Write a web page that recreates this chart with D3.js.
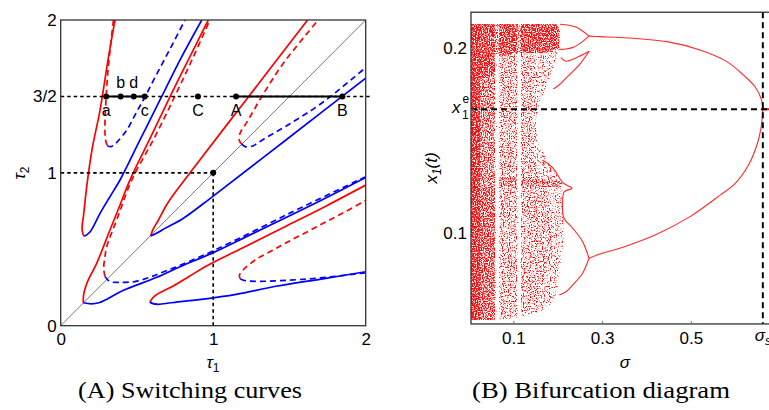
<!DOCTYPE html>
<html>
<head>
<meta charset="utf-8">
<script src="https://cdn.jsdelivr.net/npm/d3@7"></script>
<style>
body { margin: 0; background: #fff; }
svg { display: block; }
</style>
</head>
<body>
<svg id="chart" width="769" height="410"></svg>
<script>
// ---------- panel A : switching curves, points are [tau1, tau2] ----------
var curve1Red  = [[0.356,2.0],[0.310,1.738],[0.258,1.411],[0.205,1.150],[0.172,0.921],[0.150,0.724],[0.140,0.639],[0.146,0.600],[0.155,0.585]];
var curve1Blue = [[0.155,0.585],[0.192,0.613],[0.258,0.735],[0.323,0.844],[0.389,0.953],[0.520,1.215],[0.651,1.477],[0.782,1.738],[0.925,2.0]];
var curve2Red  = [[0.346,2.0],[0.312,1.694],[0.297,1.477],[0.290,1.302],[0.294,1.215],[0.306,1.178]];
var curve2Blue = [[0.306,1.178],[0.330,1.172],[0.363,1.195],[0.433,1.280],[0.498,1.398],[0.553,1.498],[0.618,1.624],[0.684,1.748],[0.750,1.874],[0.815,2.0]];
var curve3Red  = [[0.148,0.150],[0.150,0.20],[0.162,0.25],[0.181,0.30],[0.236,0.408],[0.323,0.626],[0.389,0.790],[0.454,0.953],[0.586,1.225],[0.717,1.498],[0.841,1.748],[0.968,2.0]];
var curve3Blue = [[0.148,0.150],[0.20,0.143],[0.25,0.150],[0.30,0.172],[0.408,0.230],[0.626,0.315],[0.790,0.389],[1.0,0.478],[1.225,0.586],[1.498,0.717],[1.748,0.841],[2.0,0.97]];
var curve4Red  = [[0.291,0.321],[0.282,0.37],[0.290,0.45],[0.302,0.517],[0.367,0.692],[0.466,0.953],[0.612,1.225],[0.747,1.498],[0.865,1.748],[0.978,2.0]];
var curve4Blue = [[0.291,0.321],[0.32,0.290],[0.38,0.283],[0.50,0.292],[0.70,0.362],[1.0,0.490],[1.5,0.735],[2.0,0.975]];
var curve5Red  = [[0.590,0.587],[0.603,0.625],[0.640,0.690],[0.70,0.80],[0.848,1.0],[1.233,1.5],[1.619,2.0]];
var curve5Blue = [[0.590,0.587],[0.625,0.603],[0.690,0.640],[0.80,0.70],[1.0,0.848],[1.5,1.233],[2.0,1.619]];
var curve6Red  = [[1.187,1.188],[1.172,1.21],[1.176,1.259],[1.220,1.33],[1.318,1.498],[1.460,1.717],[1.689,2.0]];
var curve6Blue = [[1.187,1.188],[1.21,1.172],[1.259,1.176],[1.33,1.220],[1.498,1.318],[1.717,1.460],[2.0,1.689]];
var curve7Red  = [[0.585,0.155],[0.613,0.192],[0.735,0.258],[0.844,0.323],[0.953,0.389],[1.215,0.520],[1.477,0.651],[1.738,0.782],[2.0,0.920]];
var curve7Blue = [[0.585,0.155],[0.600,0.146],[0.639,0.140],[0.724,0.150],[0.921,0.172],[1.150,0.205],[1.411,0.258],[1.738,0.310],[2.0,0.353]];
var curve8Red  = [[1.178,0.306],[1.172,0.330],[1.195,0.363],[1.280,0.433],[1.398,0.498],[1.498,0.553],[1.624,0.618],[1.748,0.684],[1.874,0.750],[2.0,0.820]];
var curve8Blue = [[1.178,0.306],[1.215,0.294],[1.302,0.290],[1.477,0.297],[1.694,0.312],[2.0,0.346]];

var solidCurves  = [{c: "red", d: curve1Red}, {c: "blue", d: curve1Blue}, {c: "red", d: curve3Red}, {c: "blue", d: curve3Blue},
                    {c: "red", d: curve5Red}, {c: "blue", d: curve5Blue}, {c: "red", d: curve7Red}, {c: "blue", d: curve7Blue}];
var dashedCurves = [{c: "red", d: curve2Red}, {c: "blue", d: curve2Blue}, {c: "red", d: curve4Red}, {c: "blue", d: curve4Blue},
                    {c: "red", d: curve6Red}, {c: "blue", d: curve6Blue}, {c: "red", d: curve8Red}, {c: "blue", d: curve8Blue}];

var tauTicks = [0, 1, 1.5, 2];
var tauXTicks = [0, 1, 2];
var tau2Line = 1.5;
var markNames = ["a", "b", "d", "c", "C", "A", "B"];
var markTau1  = [0.298, 0.393, 0.479, 0.551, 0.90, 1.15, 1.847];
var markAbove = ["b", "d"];
var segments  = [[0.298, 0.551], [1.15, 1.847]];
var unitPoint = [1, 1];

// ---------- panel B : bifurcation diagram, points are [sigma, x1] ----------
var sigmaS = 0.662;
var x1e = 0.167;
var sigmaMin = 0.0047;
var x1Range = [0.051, 0.2195];
var sigmaTicks = [0.1, 0.3, 0.5];
var x1Ticks = [0.1, 0.2];

var upperBranch = [[0.2705,0.2066],[0.295,0.2063],[0.370,0.2054],[0.446,0.2036],[0.5205,0.1991],[0.581,0.1928],[0.618,0.1856],[0.6445,0.1792],[0.659,0.1721],[0.662,0.1670]];
var lowerBranch = [[0.662,0.1670],[0.658,0.157],[0.649,0.148],[0.630,0.137],[0.600,0.127],[0.565,0.1205],[0.498,0.109],[0.423,0.0995],[0.347,0.0925],[0.295,0.0888],[0.2705,0.0865]];
var topArmHigh  = [[0.2705,0.2066],[0.255,0.2095],[0.241,0.2115],[0.225,0.2125],[0.205,0.2130]];
var topArmLow   = [[0.2705,0.2066],[0.255,0.2035],[0.235,0.2005],[0.215,0.1995],[0.203,0.1995]];
var sideArm1    = [[0.2707,0.1984],[0.241,0.1948],[0.2187,0.1930],[0.207,0.1950]];
var sideArm2    = [[0.2707,0.1984],[0.250,0.1915],[0.2187,0.1839],[0.2036,0.1803],[0.190,0.1780]];
var lowArmHigh  = [[0.2705,0.0865],[0.256,0.0955],[0.234,0.1027],[0.214,0.1083],[0.211,0.1160],[0.215,0.1225],[0.232,0.1243],[0.212,0.1273],[0.189,0.1353],[0.166,0.1396]];
var lowArmLow   = [[0.2705,0.0865],[0.256,0.0784],[0.234,0.0721],[0.2187,0.0684],[0.2036,0.0667]];
var branches = [upperBranch, lowerBranch, topArmHigh, topArmLow, sideArm1, sideArm2, lowArmHigh, lowArmLow];

var cloudOuter = [[0.0047,0.2131],[0.198,0.2131],[0.205,0.2099],[0.205,0.2012],[0.196,0.1937],[0.180,0.1829],[0.162,0.1721],[0.151,0.1612],[0.153,0.1504],[0.176,0.1396],[0.198,0.1315],[0.212,0.1245],[0.212,0.1126],[0.214,0.0991],[0.2075,0.0856],[0.2005,0.0721],[0.1917,0.0629],[0.160,0.0575],[0.115,0.0548],[0.070,0.0531],[0.0047,0.0531]];
var cloudInner = [[0.063,0.1970],[0.150,0.1970],[0.142,0.1650],[0.150,0.1300],[0.175,0.1250],[0.190,0.0900],[0.150,0.0590],[0.063,0.0540]];
var cloudTopBand = [[0.0047,0.2131],[0.198,0.2131],[0.204,0.2095],[0.203,0.2000],[0.170,0.1975],[0.100,0.1975],[0.070,0.1955],[0.063,0.1880],[0.0047,0.1800]];
var cloudLeftMid = [[0.0047,0.1800],[0.063,0.1880],[0.063,0.1304],[0.0047,0.1304]];
var cloudLeftLow = [[0.0047,0.1310],[0.063,0.1310],[0.063,0.0531],[0.0047,0.0531]];
var cloudLeftStrip = [[0.0047,0.2131],[0.025,0.2131],[0.025,0.0531],[0.0047,0.0531]];
var cloudMidBand = [[0.0047,0.1310],[0.200,0.1290],[0.2125,0.1268],[0.200,0.1250],[0.0047,0.1250]];
var windows = [[0.059, 0.068], [0.109, 0.117]];

// ---------- drawing ----------
var FONT = "'Liberation Sans', Arial, sans-serif";
var svg = d3.select("#chart");
var defs = svg.append("defs");

var xA = d3.scaleLinear().domain([0, 2]).range([60.7, 365.7]);
var yA = d3.scaleLinear().domain([0, 2]).range([325.7, 20]);
var xB = d3.scaleLinear().domain([0, 0.7]).range([468.9, 779.7]);
var yB = d3.scaleLinear().domain([0.1, 0.2]).range([233.3, 48.3]);

// noise speckle for the chaotic cloud: red channel of the painted layers = dot density
var K = 7;
var fx = defs.append("filter").attr("id", "cloudFx").attr("filterUnits", "userSpaceOnUse")
	.attr("x", 460).attr("y", 0).attr("width", 320).attr("height", 340)
	.attr("color-interpolation-filters", "sRGB");
fx.append("feTurbulence").attr("type", "fractalNoise").attr("baseFrequency", "0.85 0.8")
	.attr("numOctaves", 1).attr("seed", 4).attr("result", "noise");
fx.append("feColorMatrix").attr("in", "SourceGraphic").attr("type", "matrix")
	.attr("values", "0 0 0 0 0  0 0 0 0 0  0 0 0 0 0  1 0 0 0 0").attr("result", "dens");
fx.append("feComposite").attr("in", "noise").attr("in2", "dens").attr("operator", "arithmetic")
	.attr("k1", 0).attr("k2", K).attr("k3", K * 0.414).attr("k4", -K * 0.784).attr("result", "raw");
fx.append("feColorMatrix").attr("in", "raw").attr("type", "matrix")
	.attr("values", "0 0 0 0 1  0 0 0 0 0.04  0 0 0 0 0.04  0 0 0 1 0").attr("result", "red");
fx.append("feComposite").attr("in", "red").attr("in2", "SourceAlpha").attr("operator", "in");

var clipA = defs.append("clipPath").attr("id", "clipA");
clipA.append("rect").attr("x", xA(0)).attr("y", yA(2)).attr("width", xA(2) - xA(0)).attr("height", yA(0) - yA(2));
var clipB = defs.append("clipPath").attr("id", "clipB");
clipB.append("rect").attr("x", xB(sigmaMin)).attr("y", yB(x1Range[1])).attr("width", 769 - xB(sigmaMin)).attr("height", yB(x1Range[0]) - yB(x1Range[1]));

// ---- panel A ----
var gA = svg.append("g");
var plotA = gA.append("g").attr("clip-path", "url(#clipA)");
var lineA = d3.line().x(function(d) { return xA(d[0]); }).y(function(d) { return yA(d[1]); })
	.curve(d3.curveCatmullRom.alpha(0.5));

plotA.append("line").attr("x1", xA(0)).attr("y1", yA(0)).attr("x2", xA(2)).attr("y2", yA(2))
	.attr("stroke", "#555").attr("stroke-width", 0.8);

plotA.selectAll(".solid").data(solidCurves).enter().append("path")
	.attr("d", function(d) { return lineA(d.d); })
	.attr("fill", "none").attr("stroke", function(d) { return d.c === "red" ? "#ff0000" : "#0000ff"; })
	.attr("stroke-width", 1.7);
plotA.selectAll(".dashed").data(dashedCurves).enter().append("path")
	.attr("d", function(d) { return lineA(d.d); })
	.attr("fill", "none").attr("stroke", function(d) { return d.c === "red" ? "#ff0000" : "#0000ff"; })
	.attr("stroke-width", 1.7).attr("stroke-dasharray", "6,4");

// dotted guides
gA.append("line").attr("x1", xA(0)).attr("x2", xA(2) + 4).attr("y1", yA(tau2Line)).attr("y2", yA(tau2Line))
	.attr("stroke", "#000").attr("stroke-width", 1.6).attr("stroke-dasharray", "3.5,3");
gA.append("line").attr("x1", xA(0)).attr("x2", xA(unitPoint[0])).attr("y1", yA(unitPoint[1])).attr("y2", yA(unitPoint[1]))
	.attr("stroke", "#000").attr("stroke-width", 1.6).attr("stroke-dasharray", "3.5,3");
gA.append("line").attr("x1", xA(unitPoint[0])).attr("x2", xA(unitPoint[0])).attr("y1", yA(unitPoint[1])).attr("y2", yA(0))
	.attr("stroke", "#000").attr("stroke-width", 1.6).attr("stroke-dasharray", "3.5,3");

gA.selectAll(".seg").data(segments).enter().append("line")
	.attr("x1", function(d) { return xA(d[0]); }).attr("x2", function(d) { return xA(d[1]); })
	.attr("y1", yA(tau2Line)).attr("y2", yA(tau2Line))
	.attr("stroke", "#000").attr("stroke-width", 2);

gA.selectAll(".mark").data(markTau1).enter().append("circle")
	.attr("cx", function(d) { return xA(d); }).attr("cy", yA(tau2Line)).attr("r", 3).attr("fill", "#000");
gA.append("circle").attr("cx", xA(unitPoint[0])).attr("cy", yA(unitPoint[1])).attr("r", 3).attr("fill", "#000");

gA.selectAll(".mlab").data(markNames).enter().append("text")
	.attr("x", function(d, i) { return xA(markTau1[i]); })
	.attr("y", function(d) { return markAbove.indexOf(d) >= 0 ? yA(tau2Line) - 8 : yA(tau2Line) + 20; })
	.attr("text-anchor", "middle").attr("font-size", 16).attr("font-family", FONT)
	.text(function(d) { return d; });

gA.append("rect").attr("x", xA(0)).attr("y", yA(2)).attr("width", xA(2) - xA(0)).attr("height", yA(0) - yA(2))
	.attr("fill", "none").attr("stroke", "#333").attr("stroke-width", 1.3);

var axAL = gA.append("g").attr("transform", "translate(" + xA(0) + ",0)")
	.call(d3.axisLeft(yA).tickValues(tauTicks).tickSize(0).tickPadding(4)
		.tickFormat(function(d) { return d === 1.5 ? "3/2" : String(d); }));
var axAB = gA.append("g").attr("transform", "translate(0," + yA(0) + ")")
	.call(d3.axisBottom(xA).tickValues(tauXTicks).tickSize(0).tickPadding(7).tickFormat(d3.format("d")));
[axAL, axAB].forEach(function(ax) {
	ax.select(".domain").remove();
	ax.attr("font-family", FONT).attr("font-size", 17);
	ax.selectAll("text").attr("fill", "#000");
});

var t1 = gA.append("text").attr("x", 213).attr("y", 368).attr("text-anchor", "middle").attr("font-size", 17).attr("font-family", FONT);
t1.append("tspan").attr("font-style", "italic").text("τ");
t1.append("tspan").attr("font-size", 12).attr("dy", 4).text("1");
var t2 = gA.append("text").attr("transform", "translate(25,173) rotate(-90)").attr("text-anchor", "middle").attr("font-size", 17).attr("font-family", FONT);
t2.append("tspan").attr("font-style", "italic").text("τ");
t2.append("tspan").attr("font-size", 12).attr("dy", 4).text("2");

// ---- panel B ----
var gB = svg.append("g");
var plotB = gB.append("g").attr("clip-path", "url(#clipB)");
var polyB = d3.line().x(function(d) { return xB(d[0]); }).y(function(d) { return yB(d[1]); });
var lineB = d3.line().x(function(d) { return xB(d[0]); }).y(function(d) { return yB(d[1]); })
	.curve(d3.curveCatmullRom.alpha(0.5));

// density layers: brighter red = denser speckle
var cloud = plotB.append("g").attr("filter", "url(#cloudFx)");
function layer(poly, v) {
	cloud.append("path").attr("d", polyB(poly) + "Z").attr("fill", "rgb(" + Math.round(v * 255) + ",0,0)");
}
layer(cloudOuter, 0.6);
layer(cloudInner, 0.68);
layer(cloudLeftMid, 0.8);
layer(cloudLeftLow, 0.87);
layer(cloudTopBand, 0.95);
layer(cloudMidBand, 0.8);
layer(cloudLeftStrip, 1.0);
cloud.selectAll(".win").data(windows).enter().append("rect")
	.attr("x", function(d) { return xB(d[0]); }).attr("width", function(d) { return xB(d[1]) - xB(d[0]); })
	.attr("y", yB(0.197)).attr("height", yB(0.0531) - yB(0.197))
	.attr("fill", "rgb(60,0,0)");
cloud.selectAll(".winTop").data(windows).enter().append("rect")
	.attr("x", function(d) { return xB(d[0]); }).attr("width", function(d) { return xB(d[1]) - xB(d[0]); })
	.attr("y", yB(0.2131)).attr("height", yB(0.197) - yB(0.2131))
	.attr("fill", "rgb(180,0,0)");

plotB.selectAll(".branch").data(branches).enter().append("path")
	.attr("d", function(d) { return lineB(d); })
	.attr("fill", "none").attr("stroke", "#ff2a2a").attr("stroke-width", 1.1);
plotB.append("line").attr("x1", xB(sigmaS)).attr("x2", 769).attr("y1", yB(x1e)).attr("y2", yB(x1e))
	.attr("stroke", "#ff0000").attr("stroke-width", 2);

plotB.append("line").attr("x1", xB(sigmaMin)).attr("x2", 769).attr("y1", yB(x1e)).attr("y2", yB(x1e))
	.attr("stroke", "#000").attr("stroke-width", 2).attr("stroke-dasharray", "6,4");
plotB.append("line").attr("x1", xB(sigmaS)).attr("x2", xB(sigmaS)).attr("y1", yB(x1Range[1])).attr("y2", yB(x1Range[0]))
	.attr("stroke", "#000").attr("stroke-width", 2).attr("stroke-dasharray", "6,4");

gB.append("rect").attr("x", xB(sigmaMin)).attr("y", yB(x1Range[1]))
	.attr("width", 800 - xB(sigmaMin)).attr("height", yB(x1Range[0]) - yB(x1Range[1]))
	.attr("fill", "none").attr("stroke", "#333").attr("stroke-width", 1.3);

var axBL = gB.append("g").attr("transform", "translate(" + xB(sigmaMin) + ",0)")
	.call(d3.axisLeft(yB).tickValues(x1Ticks.concat([x1e])).tickSizeInner(-3).tickSizeOuter(0).tickPadding(4)
		.tickFormat(function(d) { return d === x1e ? "" : d3.format(".1f")(d); }));
var axBB = gB.append("g").attr("transform", "translate(0," + yB(x1Range[0]) + ")")
	.call(d3.axisBottom(xB).tickValues(sigmaTicks).tickSizeInner(-3).tickSizeOuter(0).tickPadding(8)
		.tickFormat(d3.format(".1f")));
[axBL, axBB].forEach(function(ax) {
	ax.select(".domain").remove();
	ax.attr("font-family", FONT).attr("font-size", 17);
	ax.selectAll("line").attr("stroke", "#777");
	ax.selectAll("text").attr("fill", "#000");
});

// x1^e label
gB.append("text").attr("x", 452).attr("y", 113).attr("font-size", 17).attr("font-family", FONT).attr("font-style", "italic").text("x");
gB.append("text").attr("x", 462.5).attr("y", 103).attr("font-size", 12).attr("font-family", FONT).text("e");
gB.append("text").attr("x", 462).attr("y", 119).attr("font-size", 12).attr("font-family", FONT).text("1");

// sigma_s label (cut by the right edge, as in the source figure)
var ss = gB.append("text").attr("x", xB(sigmaS) - 8).attr("y", 341).attr("font-size", 17).attr("font-family", FONT);
ss.append("tspan").attr("font-style", "italic").text("σ");
ss.append("tspan").attr("font-size", 12).attr("dy", 4).attr("font-style", "italic").text("s");

gB.append("text").attr("x", 625).attr("y", 368).attr("text-anchor", "middle").attr("font-size", 17)
	.attr("font-family", FONT).attr("font-style", "italic").text("σ");

var yl = gB.append("text").attr("transform", "translate(437,168) rotate(-90)").attr("text-anchor", "middle")
	.attr("font-size", 17).attr("font-family", FONT).attr("font-style", "italic");
yl.append("tspan").text("x");
yl.append("tspan").attr("font-size", 12).attr("dy", 4).text("1");
yl.append("tspan").attr("dy", -4).text("(t)");

// captions
svg.append("text").attr("x", 190).attr("y", 398).attr("text-anchor", "middle")
	.attr("font-family", "'Liberation Serif', 'Times New Roman', serif").attr("font-size", 24)
	.attr("textLength", 224).attr("lengthAdjust", "spacingAndGlyphs").text("(A) Switching curves");
svg.append("text").attr("x", 601).attr("y", 398).attr("text-anchor", "middle")
	.attr("font-family", "'Liberation Serif', 'Times New Roman', serif").attr("font-size", 24)
	.attr("textLength", 258).attr("lengthAdjust", "spacingAndGlyphs").text("(B) Bifurcation diagram");
</script>
</body>
</html>
